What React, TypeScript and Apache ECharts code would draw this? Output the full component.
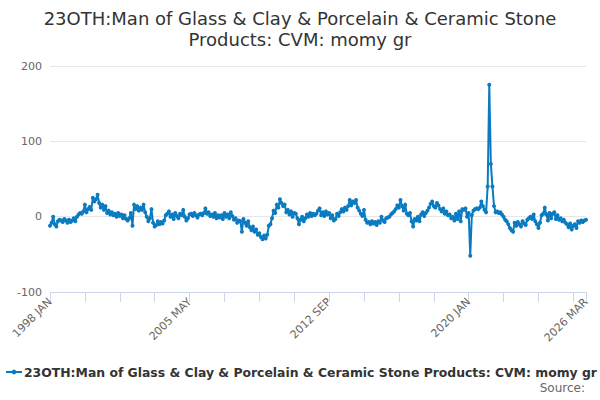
import { useEffect, useRef } from "react";
import * as echarts from "echarts";

const TITLE = "23OTH:Man of Glass & Clay & Porcelain & Ceramic Stone\nProducts: CVM: momy gr";
const SERIES_NAME = "23OTH:Man of Glass & Clay & Porcelain & Ceramic Stone Products: CVM: momy gr";

const MONTHS = ["JAN", "FEB", "MAR", "APR", "MAY", "JUN", "JUL", "AUG", "SEP", "OCT", "NOV", "DEC"];
const START_YEAR = 1998;

// monthly values, 1998 JAN .. 2026 MAR
const values = [
  -12, -8, 0, -10, -13, -6, -4, -5, -7, -3, -5, -8, // 1998
  -4, -7, -5, -2, -6, 0, 3, 5, 4, 7, 16, 6, // 1999
  10, 13, 9, 25, 20, 23, 29, 18, 12, 16, 9, 14, // 2000
  5, 8, 3, 6, 2, 4, 0, 5, 1, 3, -2, 2, // 2001
  -3, -5, -2, 5, -12, 16, 10, 14, 8, 12, 9, 16, // 2002
  6, 0, -6, -2, 10, -8, -13, -11, -6, -10, -7, -9, // 2003
  -5, 2, 4, 7, 0, 3, -3, 5, 1, -2, 4, 2, // 2004
  9, 0, -5, -2, 3, 4, 1, 5, 2, -1, 3, 4, // 2005
  2, 5, 11, 4, 6, 1, 3, 0, 5, -2, 2, -1, // 2006
  2, -3, 5, 0, 3, -2, 6, 1, -4, -2, -8, -5, // 2007
  -6, -20, -3, -8, -12, -6, -14, -18, -13, -20, -17, -24, // 2008
  -22, -27, -30, -25, -29, -24, -12, -10, -2, 8, 5, 16, // 2009
  12, 23, 18, 14, 16, 6, 9, 3, 7, 0, 5, 4, // 2010
  -2, -10, -4, 0, -6, -2, 3, 0, 5, 1, 4, 2, // 2011
  4, 8, 11, 2, 6, 1, 7, 3, 5, -2, 2, -5, // 2012
  -3, 4, 1, 6, 10, 7, 12, 9, 14, 22, 15, 20, // 2013
  18, 22, 12, 8, 4, 1, 9, -4, -8, -7, -10, -6, // 2014
  -9, -7, -11, -6, -8, 0, -5, -7, -2, -1, 0, 3, // 2015
  5, 7, 10, 15, 12, 22, 14, 8, 16, 4, 2, 5, // 2016
  -6, -13, -3, -5, 0, -6, 3, 6, 1, 5, 8, 12, // 2017
  17, 20, 14, 12, 18, 15, 10, 7, 11, 4, 7, 2, // 2018
  3, -2, 0, -5, 4, -3, 7, -6, 10, 9, 11, 0, // 2019
  5, -52, 2, 8, 10, 11, 10, 12, 20, 14, 9, 6, // 2020
  40, 175, 70, 40, 14, 6, 7, 5, 6, 3, 0, -4, // 2021
  -6, -10, -15, -18, -20, -8, -12, -7, -10, -13, -6, -9, // 2022
  -11, -4, -2, 0, -3, 3, -6, -10, -15, -8, 2, 4, // 2023
  12, 3, -5, 5, -2, 4, 6, -3, 2, -4, -2, -6, // 2024
  -4, -8, -10, -14, -9, -17, -12, -10, -15, -6, -8, -5, // 2025
  -7, -5, -4, // 2026
];

const categories = values.map(
  (_, i) => `${START_YEAR + Math.floor(i / 12)} ${MONTHS[i % 12]}`
);

const App = () => {
  const chartRef = useRef(null);

  useEffect(() => {
    document.body.style.margin = "0";
    const chart = echarts.init(chartRef.current, null, { renderer: "svg" });
    const last = categories.length - 1;

    const option: any = {
      animation: false,
      textStyle: { fontFamily: "DejaVu Sans" },
      title: [
        {
          text: TITLE,
          left: "center",
          top: 3,
          textStyle: {
            fontSize: 18,
            fontWeight: "normal",
            color: "#333333",
            lineHeight: 21,
          },
        },
        {
          text: "Source:",
          right: 10,
          bottom: 1,
          textStyle: { fontSize: 12, fontWeight: "normal", color: "#666666" },
        },
      ],
      legend: {
        left: 0,
        bottom: 17,
        itemWidth: 16,
        itemHeight: 6,
        itemGap: 0,
        textStyle: { fontSize: 12.4, fontWeight: "bold", color: "#333333", padding: [0, 0, 0, -3] },
        data: [SERIES_NAME],
      },
      grid: { left: 50, right: 14, top: 66, bottom: 108 },
      xAxis: {
        type: "category",
        boundaryGap: false,
        data: categories,
        axisLine: { onZero: false, lineStyle: { color: "#ccd6eb" } },
        axisTick: {
          length: 10,
          interval: (idx) => idx % 22 === 0 || idx === last,
          lineStyle: { color: "#ccd6eb" },
        },
        axisLabel: {
          interval: (idx) => idx % 88 === 0 || idx === last,
          rotate: 45,
          color: "#666666",
          fontSize: 11,
        },
      },
      yAxis: {
        type: "value",
        min: -100,
        max: 200,
        interval: 100,
        axisLabel: { color: "#666666", fontSize: 11 },
        splitLine: { lineStyle: { color: "#e6e6e6" } },
      },
      series: [
        {
          name: SERIES_NAME,
          type: "line",
          data: values,
          color: "#0a7bc1",
          symbol: "circle",
          symbolSize: 4,
          showAllSymbol: true,
          lineStyle: { width: 2 },
        },
      ],
    };

    chart.setOption(option);

    return () => {
      chart.dispose();
    };
  }, []);

  return <div ref={chartRef} style={{ width: "600px", height: "400px" }} />;
};

export default App;
